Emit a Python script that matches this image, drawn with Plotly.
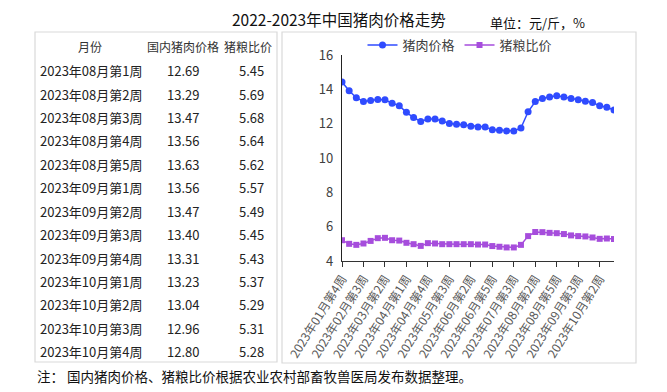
import plotly.graph_objects as go

# page body has an 8px margin: the figure is sized to fill the rest of the 667x392 window
OFF = 8
W, H = 667 - OFF, 392 - OFF

categories = [
    "2023年01月第4周", "2023年02月第1周", "2023年02月第2周", "2023年02月第3周", "2023年02月第4周",
    "2023年03月第1周", "2023年03月第2周", "2023年03月第3周", "2023年03月第4周",
    "2023年04月第1周", "2023年04月第2周", "2023年04月第3周", "2023年04月第4周",
    "2023年05月第1周", "2023年05月第2周", "2023年05月第3周", "2023年05月第4周",
    "2023年06月第1周", "2023年06月第2周", "2023年06月第3周", "2023年06月第4周", "2023年06月第5周",
    "2023年07月第1周", "2023年07月第2周", "2023年07月第3周", "2023年07月第4周",
    "2023年08月第1周", "2023年08月第2周", "2023年08月第3周", "2023年08月第4周", "2023年08月第5周",
    "2023年09月第1周", "2023年09月第2周", "2023年09月第3周", "2023年09月第4周",
    "2023年10月第1周", "2023年10月第2周", "2023年10月第3周", "2023年10月第4周",
]
pork_price = [14.43, 13.92, 13.51, 13.29, 13.35, 13.41, 13.39, 13.19, 13.05, 12.66, 12.36, 12.13, 12.27,
              12.27, 12.15, 12.01, 11.97, 11.93, 11.85, 11.81, 11.81, 11.64, 11.62, 11.58, 11.58, 11.75,
              12.69, 13.29, 13.47, 13.56, 13.63, 13.56, 13.47, 13.40, 13.31, 13.23, 13.04, 12.96, 12.80]
hog_grain_ratio = [5.21, 5.00, 4.94, 5.02, 5.17, 5.33, 5.35, 5.21, 5.19, 5.06, 4.98, 4.88, 5.04,
                   5.02, 4.98, 4.98, 4.98, 4.98, 4.98, 4.96, 4.96, 4.87, 4.83, 4.79, 4.79, 4.94,
                   5.45, 5.69, 5.68, 5.64, 5.62, 5.57, 5.49, 5.45, 5.43, 5.37, 5.29, 5.31, 5.28]
tick_labels = ["2023年01月第4周", "2023年02月第3周", "2023年03月第2周", "2023年04月第1周", "2023年04月第4周",
               "2023年05月第3周", "2023年06月第2周", "2023年06月第5周", "2023年07月第3周", "2023年08月第2周",
               "2023年08月第5周", "2023年09月第3周", "2023年10月第2周"]
y_ticks = [4, 6, 8, 10, 12, 14, 16]

table_header = ["月份", "国内猪肉价格", "猪粮比价"]
table_weeks = categories[26:]
table_price = pork_price[26:]
table_ratio = hog_grain_ratio[26:]

FONT = "Noto Sans CJK SC"
BLUE = "#2f4bff"
PURPLE = "#a64ddc"


def px(x):
    return (x - OFF) / W


def py(y):
    return 1 - (y - OFF) / H


fig = go.Figure()
fig.add_trace(go.Scatter(x=categories, y=pork_price, name="猪肉价格", mode="lines+markers",
                         line=dict(color=BLUE, width=1.5),
                         marker=dict(symbol="circle", size=7, color=BLUE)))
fig.add_trace(go.Scatter(x=categories, y=hog_grain_ratio, name="猪粮比价", mode="lines+markers",
                         line=dict(color=PURPLE, width=1.5),
                         marker=dict(symbol="square", size=6, color=PURPLE)))

shapes = []
for (x0, y0, x1, y1) in [(35, 32, 277, 362), (282, 32, 636, 363)]:
    shapes.append(dict(type="rect", xref="paper", yref="paper", x0=px(x0), x1=px(x1), y0=py(y1), y1=py(y0),
                       line=dict(color="#d9d9d9", width=1.2), fillcolor="rgba(0,0,0,0)", layer="below"))

ann = []
ann.append(dict(text="2022-2023年中国猪肉价格走势", x=px(339), y=py(18.5), xref="paper", yref="paper",
                showarrow=False, font=dict(family=FONT, size=15.5, color="#111111"), xanchor="center",
                yanchor="middle", borderpad=0))
ann.append(dict(text="单位：元/斤，%", x=px(488), y=py(22), xref="paper", yref="paper",
                showarrow=False, font=dict(family=FONT, size=13, color="#111111"), xanchor="left", yanchor="middle"))
ann.append(dict(text="注： 国内猪肉价格、猪粮比价根据农业农村部畜牧兽医局发布数据整理。", x=px(35), y=py(376),
                xref="paper", yref="paper", showarrow=False, font=dict(family=FONT, size=13.5, color="#111111"),
                xanchor="left", yanchor="middle"))

# table
hx = [90, 183, 248]
for t, x in zip(table_header, hx):
    ann.append(dict(text=t, x=px(x), y=py(46), xref="paper", yref="paper", showarrow=False,
                    font=dict(family=FONT, size=12, color="#333333"), xanchor="center", yanchor="middle"))
row0, dy = 70.7, 23.42
for i, (wk, p, r) in enumerate(zip(table_weeks, table_price, table_ratio)):
    y = py(row0 + i * dy)
    ann.append(dict(text=wk, x=px(38), y=y, xref="paper", yref="paper", showarrow=False,
                    font=dict(family=FONT, size=13, color="#222222"), xanchor="left", yanchor="middle"))
    ann.append(dict(text=f"{p:.2f}", x=px(183), y=y, xref="paper", yref="paper", showarrow=False,
                    font=dict(family=FONT, size=13, color="#222222"), xanchor="center", yanchor="middle"))
    ann.append(dict(text=f"{r:.2f}", x=px(251), y=y, xref="paper", yref="paper", showarrow=False,
                    font=dict(family=FONT, size=13, color="#222222"), xanchor="center", yanchor="middle"))

fig.update_layout(
    width=W, height=H, margin=dict(l=0, r=0, t=0, b=0, autoexpand=False),
    paper_bgcolor="white", plot_bgcolor="white",
    font=dict(family=FONT, size=13, color="#404040"),
    shapes=shapes, annotations=ann,
    legend=dict(orientation="h", x=px(460), y=py(45), xanchor="center", yanchor="middle",
                font=dict(family=FONT, size=13, color="#404040"), bgcolor="rgba(0,0,0,0)",
                itemwidth=30, tracegroupgap=0),
    showlegend=True,
    xaxis=dict(type="category", domain=[px(342), px(614)], range=[0, 38], automargin=False,
               tickmode="array", tickvals=tick_labels, ticktext=tick_labels,
               tickangle=-58, tickfont=dict(family=FONT, size=12, color="#595959"),
               showline=True, linecolor="#333333", linewidth=1.2,
               ticks="outside", ticklen=5, tickcolor="#333333", showgrid=False, zeroline=False),
    yaxis=dict(domain=[py(261), py(55)], range=[4, 16], tickvals=y_ticks, automargin=False,
               showline=True, linecolor="#222222", linewidth=1.2,
               ticks="outside", ticklen=5, tickcolor="rgba(0,0,0,0)", showgrid=False, zeroline=False,
               tickfont=dict(family=FONT, size=13, color="#404040")),
)

fig.write_html("out.html")
